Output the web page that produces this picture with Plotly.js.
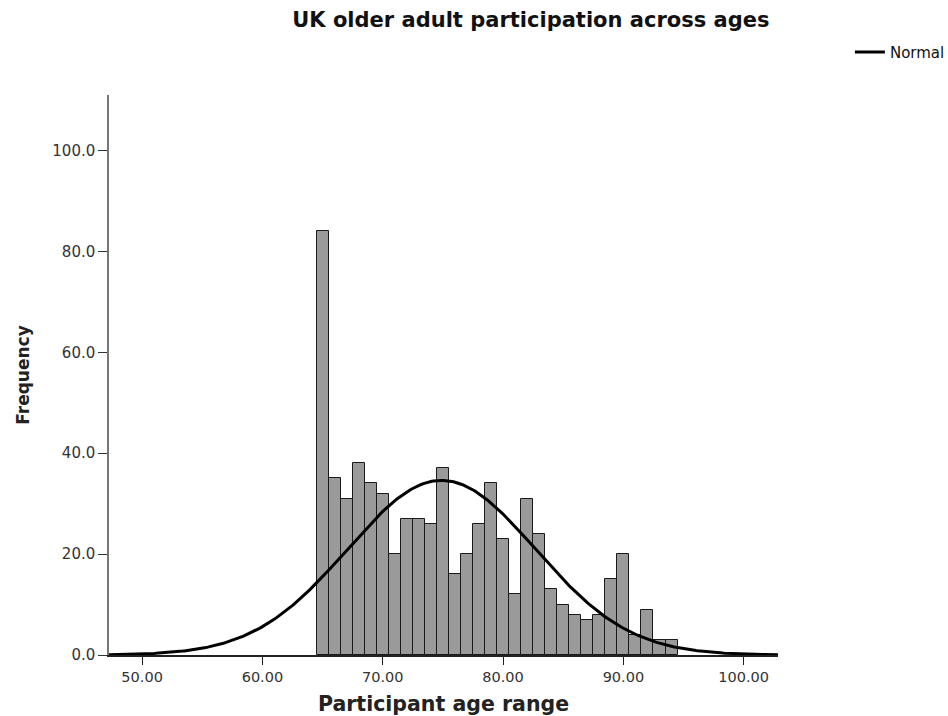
<!DOCTYPE html>
<html>
<head>
<meta charset="utf-8">
<script src="https://cdn.plot.ly/plotly-3.0.1.min.js"></script>
<style>html,body{margin:0;padding:0;background:#fff;}#chart{width:948px;height:716px;}</style>
</head>
<body>
<div id="chart"></div>
<script>
// Bin centres (participant age, 1-year bins) and frequencies
const ageBins = [65,66,67,68,69,70,71,72,73,74,75,76,77,78,79,80,81,82,83,84,85,86,87,88,89,90,91,92,93,94];
const frequencies = [84,35,31,38,34,32,20,27,27,26,37,16,20,26,34,23,12,31,24,13,10,8,7,8,15,20,4,9,3,3];
const xTickVals = [50,60,70,80,90,100];
const yTickVals = [0,20,40,60,80,100];

// Normal fit derived from the binned data (mean, SD, N), as in the original histogram
const N = frequencies.reduce((a,b)=>a+b,0);
const mean = ageBins.reduce((s,c,i)=>s+c*frequencies[i],0)/N;
const sd = Math.sqrt(ageBins.reduce((s,c,i)=>s+(c-mean)*(c-mean)*frequencies[i],0)/N);
const xMin = 47.25, xMax = 102.85;
const curveX = [], curveY = [];
for (let i=0;i<=400;i++){
  const x = xMin + (xMax-xMin)*i/400;
  curveX.push(x);
  curveY.push(N*1/(sd*Math.sqrt(2*Math.PI))*Math.exp(-0.5*Math.pow((x-mean)/sd,2)));
}

const font = 'DejaVu Sans, Liberation Sans, Arial, sans-serif';
const traces = [
  {type:'bar', x:ageBins, y:frequencies, width:1, showlegend:false,
   marker:{color:'#9a9a9a', line:{color:'#1a1a1a', width:1}}, hoverinfo:'x+y'},
  {type:'scatter', mode:'lines', x:curveX, y:curveY, name:'Normal',
   line:{color:'#000', width:3}, hoverinfo:'skip'}
];
const layout = {
  width:948, height:716,
  margin:{l:109, r:170, t:95, b:61, autoexpand:false},
  paper_bgcolor:'#fff', plot_bgcolor:'#fff',
  font:{family:font, color:'#333', size:13},
  title:{text:'<b>UK older adult participation across ages</b>', font:{family:font, size:21, color:'#111'},
         xref:'container', x:0.56, xanchor:'center', yref:'container', y:0.972, yanchor:'middle'},
  bargap:0,
  showlegend:true,
  legend:{x:1.1075, xanchor:'left', y:1.0765, yanchor:'middle', font:{family:font, size:15, color:'#111'},
          bgcolor:'rgba(0,0,0,0)', itemwidth:30},
  xaxis:{range:[xMin,xMax], tickvals:xTickVals, tickformat:'.2f', showgrid:false, zeroline:false,
         showline:true, linecolor:'#222', linewidth:1.5, ticks:'outside', ticklen:8, tickcolor:'#222',
         tickfont:{family:font, size:14.5, color:'#333'},
         title:{text:'<b>Participant age range</b>', font:{family:font, size:20.5, color:'#222'}, standoff:12}},
  yaxis:{range:[0,111], tickvals:yTickVals, tickformat:'.1f', showgrid:false, zeroline:false,
         showline:true, linecolor:'#777', linewidth:1.5, ticks:'outside', ticklen:9, tickcolor:'#333',
         tickfont:{family:font, size:15, color:'#333'},
         title:{text:'<b>Frequency</b>', font:{family:font, size:17, color:'#222'}, standoff:18}}
};
Plotly.newPlot('chart', traces, layout, {displayModeBar:false});
</script>
</body>
</html>
